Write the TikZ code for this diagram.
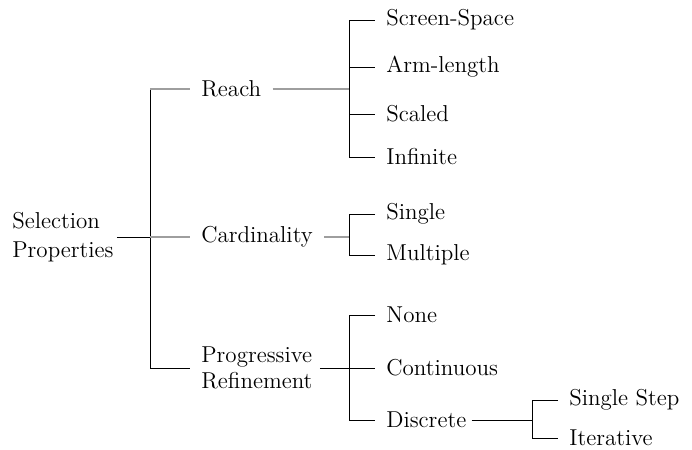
\documentclass[tikz,border=0pt]{standalone}
\begin{document}
\begin{tikzpicture}[x=0.5pt,y=-0.5pt,
  lbl/.style={anchor=west,inner ysep=0pt,inner xsep=5.5pt,font=\fontsize{11.5}{14}\selectfont,align=left},
  blk/.style={draw=black,line width=0.45pt},
  gry/.style={draw=black!38,line width=0.65pt}]
\useasboundingbox (0,0) rectangle (692,450);
% nodes
\node[lbl,inner xsep=1.5pt] (root) at (9,237) {Selection\\[0.6pt]Properties};
\node[lbl] (reach) at (190,89) {Reach};
\node[lbl] (card) at (190,237) {Cardinality};
\node[lbl,font=\fontsize{11.5}{13.2}\selectfont] (prog) at (190,368) {Progressive\\Refinement};
\node[lbl] (ss) at (375,20) {Screen-Space};
\node[lbl] (arm) at (375,67) {Arm-length};
\node[lbl] (scaled) at (375,114) {Scaled};
\node[lbl] (inf) at (375,157) {Infinite};
\node[lbl] (single) at (375,214) {Single};
\node[lbl] (multi) at (375,255) {Multiple};
\node[lbl] (none) at (375,315) {None};
\node[lbl] (cont) at (375,368) {Continuous};
\node[lbl] (disc) at (375,420) {Discrete};
\node[lbl] (sstep) at (558,400) {Single Step};
\node[lbl] (iter) at (558,438) {Iterative};
% junctions
\coordinate (j0) at (150,237);
\coordinate (j1) at (349,89);
\coordinate (j2) at (349,237);
\coordinate (j3) at (349,368);
\coordinate (j4) at (532,420);
% root level
\draw[blk] (root.east) -- (root.east -| j0);
\draw[blk] (reach.west -| j0) -- (prog.west -| j0);
\draw[gry] (reach.west -| j0) -- (reach.west);
\draw[gry] (j0) -- (card.west);
\draw[blk] (prog.west -| j0) -- (prog.west);
% reach
\draw[gry] (reach.east) -- (j1);
\draw[blk] (ss.west -| j1) |- (ss.west);
\draw[blk] (ss.west -| j1) -- (inf.west -| j1) -- (inf.west);
\draw[blk] (arm.west -| j1) -- (arm.west);
\draw[blk] (scaled.west -| j1) -- (scaled.west);
% cardinality
\draw[gry] (card.east) -- (j2);
\draw[blk] (single.west) -- (single.west -| j2) -- (multi.west -| j2) -- (multi.west);
% progressive
\draw[blk] ([xshift=-2pt]prog.east) -- (j3);
\draw[blk] (none.west) -- (none.west -| j3) -- (disc.west -| j3) -- (disc.west);
\draw[blk] (cont.west -| j3) -- (cont.west);
% discrete
\draw[blk] ([xshift=-3pt]disc.east) -- (j4);
\draw[blk] (sstep.west) -- (sstep.west -| j4) -- (iter.west -| j4) -- (iter.west);
\end{tikzpicture}
\end{document}
